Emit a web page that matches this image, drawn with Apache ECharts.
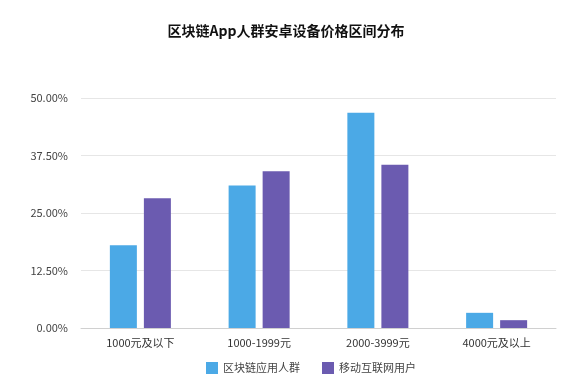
<!DOCTYPE html>
<html><head><meta charset="utf-8">
<script src="https://cdn.jsdelivr.net/npm/echarts@6/dist/echarts.min.js"></script>
<style>html,body{margin:0;padding:0;background:#fff}#c{width:572px;height:382px}</style>
</head><body><div id="c"></div>
<script>
const title = '区块链App人群安卓设备价格区间分布';
const categories = ['1000元及以下', '1000-1999元', '2000-3999元', '4000元及以上'];
const seriesNames = ['区块链应用人群', '移动互联网用户'];
const blockchainUsers = [18.0, 31.0, 46.8, 3.3];
const mobileUsers = [28.2, 34.1, 35.5, 1.7];
const yTicks = [0, 12.5, 25, 37.5, 50];

const font = '"Noto Sans CJK SC", "Liberation Sans", sans-serif';
const chart = echarts.init(document.getElementById('c'), null, {renderer: 'canvas'});
chart.setOption({
  animation: false,
  backgroundColor: '#fff',
  title: {
    text: title, left: 'center', top: 19,
    textStyle: {fontSize: 14, fontWeight: 'bold', color: '#111', fontFamily: font}
  },
  legend: {
    left: 201, top: 357, itemWidth: 12, itemHeight: 12, itemGap: 22,
    icon: 'rect',
    textStyle: {fontSize: 11, color: '#444', fontFamily: font},
    data: seriesNames
  },
  grid: {left: 81, right: 16, top: 98, bottom: 54},
  xAxis: {
    type: 'category', data: categories,
    axisLine: {lineStyle: {color: '#d0d0d0'}},
    axisTick: {show: false},
    axisLabel: {fontSize: 11, color: '#333', margin: 9, fontFamily: font}
  },
  yAxis: {
    type: 'value', min: yTicks[0], max: yTicks[yTicks.length - 1], interval: 12.5,
    axisLine: {show: false}, axisTick: {show: false},
    splitLine: {lineStyle: {color: '#e6e6e6'}},
    axisLabel: {fontSize: 11, color: '#444', margin: 13, fontFamily: font,
      formatter: v => v.toFixed(2) + '%'}
  },
  series: [
    {name: seriesNames[0], type: 'bar', data: blockchainUsers, barWidth: 27, barGap: '26%',
      itemStyle: {color: '#4BA9E6'}},
    {name: seriesNames[1], type: 'bar', data: mobileUsers, barWidth: 27,
      itemStyle: {color: '#6B5BB0'}}
  ]
});
</script></body></html>
